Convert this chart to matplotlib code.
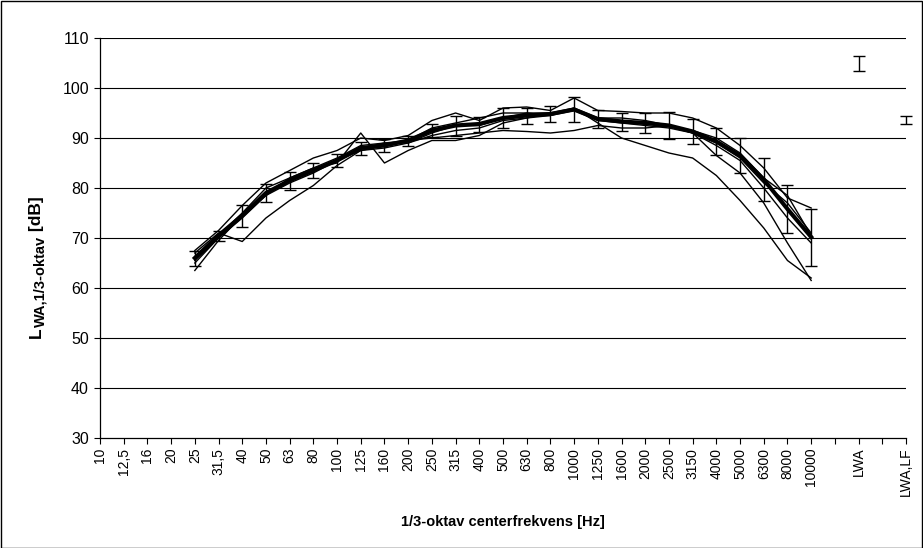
import matplotlib
matplotlib.use("Agg")
import matplotlib.pyplot as plt
from matplotlib.patches import Rectangle
import numpy as np

plt.rcParams['font.family'] = ['Liberation Sans', 'DejaVu Sans']

categories = ['10', '12,5', '16', '20', '25', '31,5', '40', '50', '63', '80', '100', '125',
              '160', '200', '250', '315', '400', '500', '630', '800', '1000', '1250', '1600',
              '2000', '2500', '3150', '4000', '5000', '6300', '8000', '10000', '', 'LWA', '', 'LWA,LF']

# band data starts at 25 Hz (index 4) and ends at 10000 Hz (index 30)
band_start = 4

mean_vals = [66, 70.5, 74.5, 79, 81.5, 83.5, 85.5, 88, 88.5, 89.5, 91.5, 92.5, 92.8, 94,
             94.5, 94.8, 95.7, 93.8, 93.3, 93, 92.5, 91.3, 89.3, 86.5, 81.7, 75.8, 70.2]
mean_err = [1.5, 1.0, 2.2, 1.8, 1.8, 1.5, 1.3, 1.3, 1.3, 1.0, 1.3, 2.0, 1.5, 2.0, 1.6, 1.6,
            2.5, 1.8, 1.8, 2.0, 2.7, 2.5, 2.7, 3.5, 4.3, 4.8, 5.7]

series_1 = [67, 71, 69.3, 74, 77.5, 80.5, 84.5, 87.5, 88, 89, 90.5, 91.5, 92, 93.5, 94, 94.5,
            95.5, 93.5, 93, 92.5, 92, 91, 88.5, 85.5, 80, 74, 69]
series_2 = [65, 70, 74, 78.5, 82, 84, 85, 91, 85, 87.5, 89.5, 89.5, 90.5, 93, 94, 95, 95.5,
            94, 93.5, 93, 92.5, 91, 89, 86, 81, 77, 71]
series_3 = [67.5, 71.5, 76.5, 81, 83.5, 86, 87.5, 90, 89.5, 90.5, 93.5, 95, 93.5, 96, 96.2,
            95.5, 98, 95.5, 95.3, 95, 95, 94, 92, 88.5, 84, 78, 76]
series_4 = [63.5, 69.5, 74.5, 78.5, 81, 83, 85.5, 88, 89, 89.5, 92, 93, 94, 95, 95, 95, 96,
            93, 90, 88.5, 87, 86, 82.5, 77.5, 72, 65.5, 62]
series_5 = [66, 70.5, 75, 80, 82, 84, 86, 88.5, 89, 89, 91, 92.5, 92.5, 94, 95, 94.5, 96, 94,
            94, 93.5, 92.5, 91, 86.5, 83, 77, 69, 61.5]
series_6 = [65.5, 70, 74.5, 79, 81.5, 83.5, 85.5, 87.5, 88.5, 89.5, 90, 90.5, 91, 91.5, 91.3,
            91, 91.5, 92.5, 92, 92, 92.5, 91.5, 90, 87, 82, 78.5, 70.5]

total_labels = ['LWA', 'LWA,LF']
total_vals = [105.0, 93.6]
total_err = [1.5, 0.8]

W, H = 923, 548
fig = plt.figure(figsize=(W / 100, H / 100), dpi=100)
ax = fig.add_axes([100 / W, 110 / H, 806 / W, 400 / H])

x_band = np.arange(band_start, band_start + len(mean_vals))
for s in [series_1, series_2, series_3, series_4, series_5, series_6]:
    ax.plot(x_band, s, color='black', lw=1.0, zorder=3)

ax.errorbar(x_band, mean_vals, yerr=mean_err, color='black', lw=3.0, elinewidth=1.0,
            capsize=4.5, capthick=1.0, zorder=4)

x_tot = [categories.index(l) for l in total_labels]
eb = ax.errorbar(x_tot, total_vals, yerr=total_err, fmt='none', ecolor='black', elinewidth=1.0,
                 capsize=4.5, capthick=1.0, zorder=4)
for child in eb.get_children():
    child.set_clip_on(False)

ax.set_xlim(0, len(categories) - 1)
ax.set_ylim(30, 110)
ax.set_yticks(np.arange(30, 111, 10))
ax.set_xticks(np.arange(len(categories)))
ax.set_xticklabels(categories, rotation=90, fontsize=10)
ax.tick_params(axis='x', direction='out', length=4, width=0.8, pad=3)
ax.tick_params(axis='y', direction='out', length=4, width=0.8, pad=4, labelsize=11.5)

for v in np.arange(40, 111, 10):
    ax.axhline(v, color='black', lw=0.8, zorder=1)

for sp in ['top', 'right']:
    ax.spines[sp].set_visible(False)
for sp in ['left', 'bottom']:
    ax.spines[sp].set_linewidth(0.9)

fig.text(503 / W, 1 - 522 / H, '1/3-oktav centerfrekvens [Hz]', ha='center', va='center',
         fontsize=10.5, fontweight='bold')

# y-axis label built piecewise (rotated 90 degrees, reading bottom to top)
renderer = fig.canvas.get_renderer()


def piece_len(txt, size):
    tmp = fig.text(0, 0, txt.replace(' ', '\u00a0'), fontsize=size, fontweight='bold')
    w = tmp.get_window_extent(renderer).width
    tmp.remove()
    return w


def put_pieces(pieces, center_px_from_top):
    total = sum(piece_len(t, s) for t, s, _ in pieces)
    y = H - center_px_from_top - total / 2
    for txt, size, base_x in pieces:
        fig.text(base_x / W, y / H, txt.replace(' ', '\u00a0'), rotation=90,
                 rotation_mode='anchor', ha='left', va='baseline', fontsize=size,
                 fontweight='bold')
        y += piece_len(txt, size)


put_pieces([('L', 12.5, 41),
            ('WA,1/3-oktav', 10.5, 44),
            (' [dB]', 12.5, 41)], 267)

fig.add_artist(Rectangle((0.5 / W, 0.5 / H), 1 - 1.5 / W, 1 - 1.5 / H, transform=fig.transFigure,
                         fill=False, edgecolor='black', lw=1.0))

fig.savefig('out.png', dpi=100)
